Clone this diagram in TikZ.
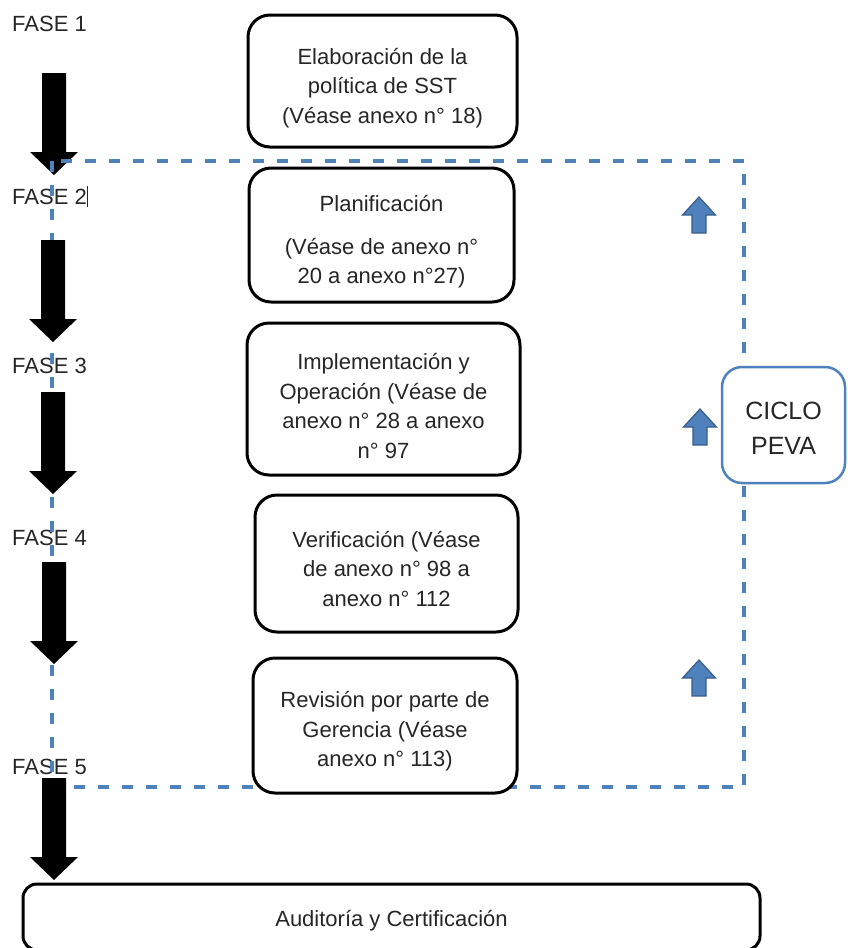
\documentclass[tikz,border=0pt]{standalone}
\usepackage{fontspec}
\setmainfont{Liberation Sans}
\definecolor{pevablue}{RGB}{79,129,189}
\definecolor{pevadark}{RGB}{56,93,138}
\definecolor{txtgray}{RGB}{38,38,38}
\begin{document}
\begin{tikzpicture}[x=1pt,y=-1pt,
  box/.style={draw=black, line width=3pt, rounded corners=22pt, fill=white, inner sep=0pt},
  txt/.style={align=center, font=\fontsize{22}{29.5}\selectfont, text=txtgray, inner sep=0pt},
  fase/.style={anchor=base west, font=\fontsize{22}{26}\selectfont, text=txtgray, inner sep=0pt},
  dashline/.style={draw=pevablue, line width=3.2pt, dash pattern=on 11pt off 13pt},
  pics/downarrow/.style={code={\fill[black] (-12,0) -- (12,0) -- (12,79) -- (24,79) -- (0,102) -- (-24,79) -- (-12,79) -- cycle;}},
  pics/uparrow/.style={code={\filldraw[fill=pevablue, draw=pevadark, line width=1.2pt, line join=miter] (0,0) -- (16.5,18) -- (7,18) -- (7,36) -- (-7,36) -- (-7,18) -- (-16.5,18) -- cycle;}}]
\useasboundingbox (0,0) rectangle (848,948);
\clip (0,0) rectangle (848,948);

% phase labels
\node[fase] (f1) at (12,31) {FASE 1};
\node[fase] (f2) at (12,204) {FASE 2\rule[-3pt]{0.9pt}{21pt}};
\node[fase] (f3) at (12,373) {FASE 3};
\node[fase] (f4) at (12,545) {FASE 4};
\node[fase] (f5) at (12,774) {FASE 5};

% first black arrow below the dashed frame
\pic at (54,73) {downarrow};

% dashed PEVA frame
\draw[dashline] (52,161) rectangle (744,787);

% remaining black arrows
\pic at (53,240) {downarrow};
\pic at (53,392) {downarrow};
\pic at (54,562) {downarrow};
\pic at (54,778) {downarrow};

% blue up arrows
\pic at (699,197) {uparrow};
\pic at (700,409) {uparrow};
\pic at (699,660) {uparrow};

% boxes
\node[box, minimum width=269pt, minimum height=132pt] (b1) at (382.5,81) {};
\node[txt] (t1) at ([yshift=-7pt]b1.center) {Elaboración de la\\política de SST\\(Véase anexo n° 18)};

\node[box, minimum width=265pt, minimum height=134pt] (b2) at (381.5,235) {};
\node[txt] (t2) at ([yshift=-7pt]b2.center) {Planificación\\[13pt](Véase de anexo n°\\20 a anexo n°27)};

\node[box, minimum width=273pt, minimum height=152pt] (b3) at (383.5,399) {};
\node[txt] (t3) at ([yshift=-7pt]b3.center) {Implementación y\\Operación (Véase de\\anexo n° 28 a anexo\\n° 97};

\node[box, minimum width=263pt, minimum height=137pt] (b4) at (386.5,563.5) {};
\node[txt] (t4) at ([yshift=-5pt]b4.center) {Verificación (Véase\\de anexo n° 98 a\\anexo n° 112};

\node[box, minimum width=264pt, minimum height=135pt] (b5) at (385,725.5) {};
\node[txt] (t5) at ([yshift=-6pt]b5.center) {Revisión por parte de\\Gerencia (Véase\\anexo n° 113)};

\node[box, rounded corners=14pt, minimum width=737pt, minimum height=66pt] (b6) at (391.5,917) {};
\node[txt] (t6) at ([yshift=-4pt]b6.center) {Auditoría y Certificación};

% CICLO PEVA
\node[draw=pevablue, line width=2.5pt, rounded corners=20pt, fill=white, inner sep=0pt,
      minimum width=123pt, minimum height=116pt] (peva) at (783.5,425) {};
\node[align=center, font=\fontsize{25}{35}\selectfont, text=txtgray, inner sep=0pt] (pevat) at ([yshift=-3pt]peva.center) {CICLO\\PEVA};
\end{tikzpicture}
\end{document}
